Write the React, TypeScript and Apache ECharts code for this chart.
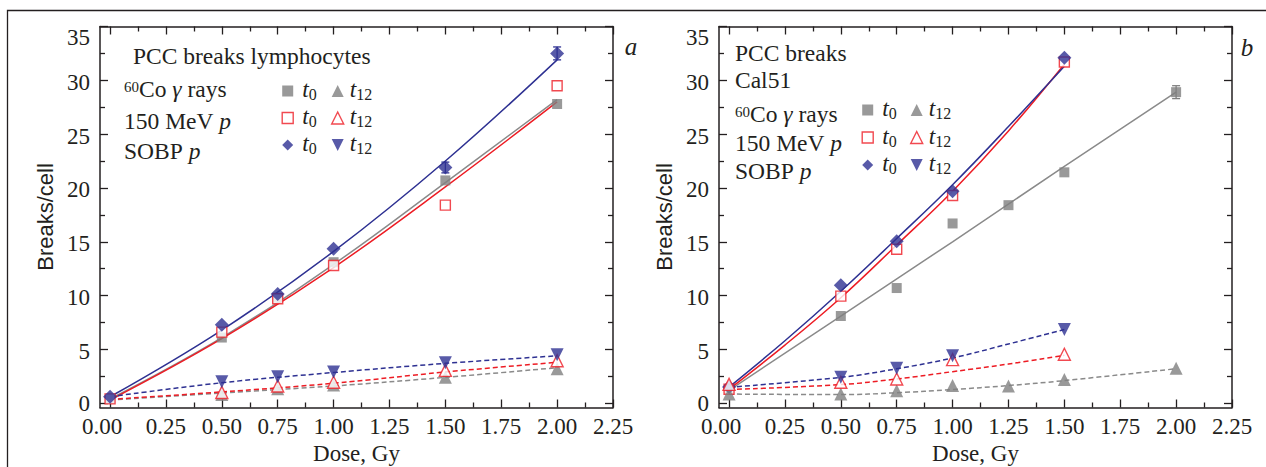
import React, { useEffect, useRef } from "react";
import * as echarts from "echarts";

// ---------- axes ----------
const X_MIN = -0.045;
const X_MAX = 2.25;
const Y_MIN = -0.4;
const Y_MAX = 35;
const X_MAJOR = [0, 0.25, 0.5, 0.75, 1, 1.25, 1.5, 1.75, 2, 2.25];
const X_MINOR = [0.125, 0.375, 0.625, 0.875, 1.125, 1.375, 1.625, 1.875, 2.125];
const Y_MAJOR = [0, 5, 10, 15, 20, 25, 30, 35];
const Y_MINOR = [2.5, 7.5, 12.5, 17.5, 22.5, 27.5, 32.5];

// ---------- panel a: lymphocytes ----------
const A_CO_T0 = [[0, 0.4], [0.5, 6.1], [0.75, 9.8], [1, 13.1], [1.5, 20.7], [2, 27.8]];
const A_P_T0 = [[0, 0.4], [0.5, 6.6], [0.75, 9.7], [1, 12.8], [1.5, 18.4], [2, 29.5]];
const A_S_T0 = [[0, 0.6], [0.5, 7.3], [0.75, 10.15], [1, 14.35], [1.5, 21.9], [2, 32.5]];
const A_CO_T12 = [[0.5, 0.8], [0.75, 1.35], [1, 1.7], [1.5, 2.4], [2, 3.2]];
const A_P_T12 = [[0.5, 1.0], [0.75, 1.6], [1, 1.95], [1.5, 3.05], [2, 3.95]];
const A_S_T12 = [[0.5, 2.0], [0.75, 2.45], [1, 2.9], [1.5, 3.75], [2, 4.5]];
const A_S_T0_ERR = [[1.5, 21.4, 22.4], [2, 31.9, 33.1]];

const A_CO_T0_FIT = [[0, 0.4], [0.5, 6.1], [1, 12.9], [1.5, 20.5], [2, 28.2]];
const A_P_T0_FIT = [[0, 0.3], [0.5, 6.0], [1, 12.6], [1.5, 20.1], [2, 28.0]];
const A_S_T0_FIT = [[0, 0.6], [0.5, 6.8], [1, 14.1], [1.5, 22.5], [2, 31.9]];
const A_CO_T12_FIT = [[0, 0.3], [0.5, 0.95], [1, 1.6], [1.5, 2.4], [2, 3.3]];
const A_P_T12_FIT = [[0, 0.35], [0.5, 1.05], [1, 1.85], [1.5, 2.9], [2, 3.8]];
const A_S_T12_FIT = [[0, 0.6], [0.5, 1.9], [1, 2.85], [1.5, 3.7], [2, 4.4]];

// ---------- panel b: Cal51 ----------
const B_CO_T0 = [[0, 1.3], [0.5, 8.1], [0.75, 10.7], [1, 16.7], [1.25, 18.4], [1.5, 21.45], [2, 28.9]];
const B_P_T0 = [[0, 1.3], [0.5, 9.95], [0.75, 14.3], [1, 19.3], [1.5, 31.7]];
const B_S_T0 = [[0, 1.5], [0.5, 10.95], [0.75, 15.05], [1, 19.7], [1.5, 32.1]];
const B_CO_T12 = [[0, 0.85], [0.5, 0.85], [0.75, 1.15], [1, 1.65], [1.25, 1.6], [1.5, 2.2], [2, 3.25]];
const B_P_T12 = [[0, 1.75], [0.5, 1.95], [0.75, 2.25], [1, 4.05], [1.5, 4.55]];
const B_S_T12 = [[0.5, 2.4], [0.75, 3.25], [1, 4.4], [1.5, 6.85]];
const B_CO_T0_ERR = [[2, 28.3, 29.5]];

const B_CO_T0_FIT = [[0, 1.2], [0.5, 8.1], [1, 15.0], [1.5, 22.0], [2, 28.9]];
const B_P_T0_FIT = [[0, 1.3], [0.25, 5.4], [0.5, 9.8], [0.75, 14.7], [1, 19.7], [1.25, 25.3], [1.5, 31.5]];
const B_S_T0_FIT = [[0, 1.5], [0.25, 5.8], [0.5, 10.4], [0.75, 15.3], [1, 20.3], [1.25, 25.7], [1.5, 31.3]];
const B_CO_T12_FIT = [[0, 0.85], [0.5, 0.8], [0.75, 0.97], [1, 1.27], [1.25, 1.64], [1.5, 2.1], [2, 3.2]];
const B_P_T12_FIT = [[0, 1.27], [0.5, 1.73], [0.75, 2.25], [1, 2.93], [1.25, 3.64], [1.5, 4.45]];
const B_S_T12_FIT = [[0, 1.48], [0.5, 2.4], [0.75, 3.2], [1, 4.2], [1.25, 5.5], [1.5, 6.85]];

// ---------- texts ----------
const A_TITLE = "PCC breaks lymphocytes";
const B_TITLE_1 = "PCC breaks";
const B_TITLE_2 = "Cal51";
const LINE_CO = "{sup|60}Co {it|γ} rays";
const LINE_P = "150 MeV {it|p}";
const LINE_SOBP = "SOBP {it|p}";
const X_NAME = "Dose, Gy";
const Y_NAME = "Breaks/cell";

// ---------- styles ----------
const SERIF = "Liberation Serif";
const SANS = "Liberation Sans";
const INK = "#231f20";
const BLUE = "#2e3192";
const RED = "#ed1c24";
const GRAY = "#808080";
const GRAY_LINE = "#8a8a8a";

const MARK: Record<string, any> = {
  co0: { symbol: "rect", symbolSize: 10, itemStyle: { color: GRAY } },
  p0: { symbol: "rect", symbolSize: 10, itemStyle: { color: "#ffffff", borderColor: RED, borderWidth: 1.4 } },
  s0: { symbol: "diamond", symbolSize: 14, itemStyle: { color: BLUE } },
  co12: { symbol: "triangle", symbolSize: 13, itemStyle: { color: GRAY } },
  p12: { symbol: "triangle", symbolSize: 12, itemStyle: { color: "#ffffff", borderColor: RED, borderWidth: 1.4 } },
  s12: { symbol: "triangle", symbolSize: 13, symbolRotate: 180, itemStyle: { color: BLUE } },
};

const DOWN_TRI = "path://M0,0L10,0L5,10Z";

const LABEL_FONT = { color: INK, fontFamily: SERIF, fontSize: 23, fontStyle: "normal" };

function xAxes(grid: number) {
  const common = { gridIndex: grid, type: "value", min: X_MIN, max: X_MAX, splitLine: { show: false } };
  const line = { show: true, onZero: false, lineStyle: { color: INK, width: 1.5 } };
  const noLine = { show: false, onZero: false };
  const major = { show: true, inside: true, length: 8, customValues: X_MAJOR, lineStyle: { color: INK, width: 1.3 } };
  const minor = { show: true, inside: true, length: 5, customValues: X_MINOR, lineStyle: { color: INK, width: 1.3 } };
  return [
    {
      ...common,
      position: "bottom",
      axisLine: line,
      axisTick: major,
      axisLabel: {
        show: true,
        customValues: X_MAJOR,
        margin: 7,
        ...LABEL_FONT,
        formatter: (v: number) => (v === 0 ? "{first|0.00}" : "{n|" + v.toFixed(2) + "}"),
        rich: { first: { padding: [0, 16, 0, 0], ...LABEL_FONT }, n: { ...LABEL_FONT } },
      },
      name: X_NAME,
      nameLocation: "middle",
      nameGap: 31,
      nameTextStyle: { ...LABEL_FONT },
    },
    { ...common, position: "bottom", axisLine: noLine, axisTick: minor, axisLabel: { show: false } },
    { ...common, position: "top", axisLine: line, axisTick: major, axisLabel: { show: false } },
    { ...common, position: "top", axisLine: noLine, axisTick: minor, axisLabel: { show: false } },
  ];
}

function yAxes(grid: number) {
  const common = { gridIndex: grid, type: "value", min: Y_MIN, max: Y_MAX, splitLine: { show: false } };
  const line = { show: true, onZero: false, lineStyle: { color: INK, width: 1.5 } };
  const noLine = { show: false, onZero: false };
  const major = { show: true, inside: true, length: 8, customValues: Y_MAJOR, lineStyle: { color: INK, width: 1.3 } };
  const minor = { show: true, inside: true, length: 5, customValues: Y_MINOR, lineStyle: { color: INK, width: 1.3 } };
  return [
    {
      ...common,
      position: "left",
      axisLine: line,
      axisTick: major,
      axisLabel: {
        show: true,
        customValues: Y_MAJOR,
        margin: 10,
        ...LABEL_FONT,
        formatter: (v: number) => (v === 35 ? "{top|35}" : v === 0 ? "{z|0}" : "{n|" + v + "}"),
        rich: {
          top: { padding: [22, 0, 0, 0], ...LABEL_FONT },
          n: { padding: [4, 0, 0, 0], ...LABEL_FONT },
          z: { ...LABEL_FONT },
        },
      },
      name: Y_NAME,
      nameLocation: "middle",
      nameGap: 44,
      nameTextStyle: { color: INK, fontFamily: SANS, fontSize: 22 },
    },
    { ...common, position: "left", axisLine: noLine, axisTick: minor, axisLabel: { show: false } },
    { ...common, position: "right", axisLine: line, axisTick: major, axisLabel: { show: false } },
    { ...common, position: "right", axisLine: noLine, axisTick: minor, axisLabel: { show: false } },
  ];
}

function scatter(name: string, data: number[][], base: number, kind: string) {
  return {
    type: "scatter",
    name,
    data,
    xAxisIndex: base,
    yAxisIndex: base,
    z: 5,
    ...MARK[kind],
  };
}

function fit(data: number[][], base: number, color: string, dashed: boolean, smooth: number | boolean = 0.4) {
  return {
    type: "line",
    data,
    xAxisIndex: base,
    yAxisIndex: base,
    symbol: "none",
    showSymbol: false,
    smooth,
    silent: true,
    z: 3,
    lineStyle: { color, width: 1.5, type: dashed ? [5, 3] : "solid" },
    itemStyle: { color },
  };
}

function errorBars(data: number[][], base: number, color: string) {
  return {
    type: "custom",
    data,
    xAxisIndex: base,
    yAxisIndex: base,
    silent: true,
    z: 4,
    encode: { x: 0, y: [1, 2] },
    renderItem: (_params: any, api: any) => {
      const x = api.value(0);
      const lo = api.coord([x, api.value(1)]);
      const hi = api.coord([x, api.value(2)]);
      const w = 4;
      const st = { stroke: color, lineWidth: 1.3 };
      return {
        type: "group",
        children: [
          { type: "line", shape: { x1: lo[0], y1: lo[1], x2: hi[0], y2: hi[1] }, style: st },
          { type: "line", shape: { x1: lo[0] - w, y1: lo[1], x2: lo[0] + w, y2: lo[1] }, style: st },
          { type: "line", shape: { x1: hi[0] - w, y1: hi[1], x2: hi[0] + w, y2: hi[1] }, style: st },
        ],
      };
    },
  };
}

function legendRich(pad: number) {
  return {
    t: { fontFamily: SERIF, fontStyle: "italic", fontSize: 23.5, color: INK, verticalAlign: "top", lineHeight: 27, padding: [0, 0, 0, pad] },
    s: { fontFamily: SERIF, fontStyle: "normal", fontSize: 16, color: INK, verticalAlign: "bottom", padding: [0, 0, 2, 0] },
  };
}

function legend(names: string[], left: number, top: number, size: number, pad: number, gap: number, hollow: string, down: string) {
  return {
    orient: "vertical",
    left,
    top,
    padding: 0,
    itemGap: gap,
    itemWidth: size,
    itemHeight: size,
    selectedMode: false,
    data: names.map((n) => {
      if (n === hollow) return { name: n, itemStyle: { borderWidth: 1.4 } };
      if (n === down) return { name: n, icon: DOWN_TRI, symbolRotate: 0 };
      return { name: n };
    }),
    formatter: (name: string) => (name.endsWith("t12") ? "{t|t}{s|12}" : "{t|t}{s|0}"),
    textStyle: {
      color: INK,
      fontFamily: SERIF,
      fontSize: 23,
      lineHeight: 27,
      rich: legendRich(pad),
    },
  };
}

const TEXT_RICH = {
  sup: { fontFamily: SERIF, fontSize: 15, fill: INK, verticalAlign: "top", padding: [3, 0, 0, 0] },
  it: { fontFamily: SERIF, fontStyle: "italic", fontSize: 23.5, fill: INK },
};

function label(x: number, y: number, text: string) {
  return {
    type: "text",
    x,
    y,
    silent: true,
    style: {
      text,
      fill: INK,
      fontFamily: SERIF,
      fontSize: 23.5,
      align: "left",
      verticalAlign: "middle",
      lineHeight: 26,
      rich: TEXT_RICH,
    },
  };
}

function panelLetter(x: number, y: number, text: string) {
  return {
    type: "text",
    x,
    y,
    silent: true,
    style: { text, fill: INK, fontFamily: SERIF, fontStyle: "italic", fontSize: 25, align: "center", verticalAlign: "middle" },
  };
}

export default function App() {
  const ref = useRef<HTMLDivElement>(null);
  useEffect(() => {
    if (!ref.current) return;
    const chart = echarts.init(ref.current, null, { renderer: "svg" });
    const A = 0;
    const B = 4;
    const option: any = {
      animation: false,
      backgroundColor: "#ffffff",
      textStyle: { fontFamily: SERIF, color: INK },
      grid: [
        { left: 100, top: 26.5, width: 513, height: 381, outerBoundsMode: "none" },
        { left: 719, top: 26.5, width: 513, height: 381, outerBoundsMode: "none" },
      ],
      xAxis: [...xAxes(0), ...xAxes(1)],
      yAxis: [...yAxes(0), ...yAxes(1)],
      legend: [
        legend(["a 60Co t0", "a 150MeV t0", "a SOBP t0"], 281.5, 77.5, 11, 4, 0, "a 150MeV t0", ""),
        legend(["a 60Co t12", "a 150MeV t12", "a SOBP t12"], 331, 77.5, 12, 1, 0, "a 150MeV t12", "a SOBP t12"),
        legend(["b 60Co t0", "b 150MeV t0", "b SOBP t0"], 861.5, 96.5, 11, 4, 0.5, "b 150MeV t0", ""),
        legend(["b 60Co t12", "b 150MeV t12", "b SOBP t12"], 910, 96.5, 12, 1, 0.5, "b 150MeV t12", "b SOBP t12"),
      ],
      graphic: [
        {
          type: "polyline",
          silent: true,
          shape: { points: [[7.5, 467], [7.5, 10.5], [1266, 10.5]] },
          style: { stroke: INK, lineWidth: 1.3, fill: "none" },
        },
        label(133, 56, A_TITLE),
        label(124, 89, LINE_CO),
        label(124, 121, LINE_P),
        label(124, 151, LINE_SOBP),
        label(735, 52.5, B_TITLE_1),
        label(735, 80, B_TITLE_2),
        label(735, 114, LINE_CO),
        label(735, 142.5, LINE_P),
        label(735, 170.5, LINE_SOBP),
        panelLetter(631, 46, "a"),
        panelLetter(1247, 47, "b"),
      ],
      series: [
        fit(A_CO_T0_FIT, A, GRAY_LINE, false),
        fit(A_P_T0_FIT, A, RED, false),
        fit(A_S_T0_FIT, A, BLUE, false),
        fit(A_CO_T12_FIT, A, GRAY_LINE, true),
        fit(A_P_T12_FIT, A, RED, true),
        fit(A_S_T12_FIT, A, BLUE, true),
        errorBars(A_S_T0_ERR, A, BLUE),
        scatter("a 60Co t0", A_CO_T0, A, "co0"),
        scatter("a 150MeV t0", A_P_T0, A, "p0"),
        scatter("a SOBP t0", A_S_T0, A, "s0"),
        scatter("a 60Co t12", A_CO_T12, A, "co12"),
        scatter("a 150MeV t12", A_P_T12, A, "p12"),
        scatter("a SOBP t12", A_S_T12, A, "s12"),

        fit(B_CO_T0_FIT, B, GRAY_LINE, false, false),
        fit(B_P_T0_FIT, B, RED, false),
        fit(B_S_T0_FIT, B, BLUE, false),
        fit(B_CO_T12_FIT, B, GRAY_LINE, true),
        fit(B_P_T12_FIT, B, RED, true),
        fit(B_S_T12_FIT, B, BLUE, true),
        errorBars(B_CO_T0_ERR, B, GRAY),
        scatter("b 60Co t0", B_CO_T0, B, "co0"),
        scatter("b 150MeV t0", B_P_T0, B, "p0"),
        scatter("b SOBP t0", B_S_T0, B, "s0"),
        scatter("b 60Co t12", B_CO_T12, B, "co12"),
        scatter("b 150MeV t12", B_P_T12, B, "p12"),
        scatter("b SOBP t12", B_S_T12, B, "s12"),
      ],
    };
    chart.setOption(option);
    return () => chart.dispose();
  }, []);
  return (
    <div
      ref={ref}
      style={{ position: "fixed", left: 0, top: 0, width: 1266, height: 467, background: "#fff" }}
    />
  );
}
